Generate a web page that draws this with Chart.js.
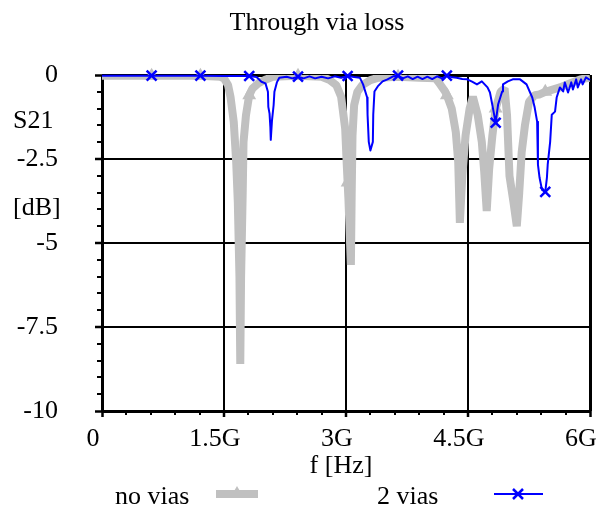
<!DOCTYPE html>
<html>
<head>
<meta charset="utf-8">
<script src="https://cdn.jsdelivr.net/npm/chart.js@4.4.1/dist/chart.umd.min.js"></script>
<style>
  html, body { margin: 0; padding: 0; background: #fff; }
  #wrap { width: 601px; height: 515px; }
</style>
</head>
<body>
<div id="wrap"><canvas id="c" width="601" height="515"></canvas></div>
<script>
// Frequencies in GHz, S21 in dB
const freqNoVias = [0, 0.3, 0.61, 0.9, 1.21, 1.45, 1.5, 1.55, 1.58, 1.62, 1.65, 1.67, 1.69, 1.70, 1.71, 1.73, 1.74, 1.77, 1.81, 1.85, 1.92, 2.0, 2.1, 2.41, 2.7, 2.8, 2.88, 2.94, 2.99, 3.01, 3.02, 3.03, 3.06, 3.07, 3.08, 3.10, 3.14, 3.2, 3.3, 3.4, 3.64, 3.9, 4.1, 4.15, 4.22, 4.24, 4.3, 4.35, 4.38, 4.40, 4.43, 4.47, 4.52, 4.56, 4.62, 4.67, 4.70, 4.73, 4.76, 4.80, 4.84, 4.9, 4.95, 4.98, 5.01, 5.06, 5.10, 5.13, 5.16, 5.2, 5.25, 5.32, 5.38, 5.45, 5.63, 5.75, 5.88, 6.0];
const s21NoVias = [-0.02, -0.02, -0.02, -0.02, -0.02, -0.05, -0.1, -0.3, -0.65, -1.4, -2.6, -3.8, -6.0, -8.6, -6.0, -3.5, -2.0, -1.2, -0.6, -0.4, -0.25, -0.15, -0.05, -0.02, -0.05, -0.15, -0.3, -0.65, -1.6, -2.7, -3.2, -3.7, -5.65, -3.5, -1.8, -0.9, -0.5, -0.3, -0.15, -0.08, -0.05, -0.08, -0.1, -0.25, -0.5, -0.6, -1.0, -1.7, -2.6, -4.4, -3.0, -1.8, -1.0, -0.65, -1.2, -2.0, -2.9, -4.05, -2.8, -1.8, -1.0, -0.5, -0.4, -1.2, -3.0, -3.8, -4.5, -3.5, -2.3, -1.5, -0.8, -0.6, -0.58, -0.5, -0.37, -0.25, -0.13, -0.08];

const freqTwoVias = [0, 0.3, 0.61, 0.9, 1.21, 1.5, 1.81, 1.9, 1.96, 2.01, 2.04, 2.045, 2.06, 2.07, 2.075, 2.09, 2.11, 2.12, 2.15, 2.18, 2.27, 2.34, 2.41, 2.48, 2.55, 2.62, 2.7, 2.78, 2.86, 2.94, 3.02, 3.1, 3.17, 3.21, 3.26, 3.265, 3.28, 3.30, 3.33, 3.335, 3.35, 3.39, 3.45, 3.51, 3.58, 3.64, 3.7, 3.76, 3.82, 3.88, 3.94, 4.0, 4.06, 4.12, 4.18, 4.24, 4.31, 4.36, 4.43, 4.49, 4.55, 4.61, 4.67, 4.74, 4.77, 4.81, 4.84, 4.87, 4.92, 4.93, 4.99, 5.05, 5.14, 5.22, 5.29, 5.32, 5.35, 5.36, 5.38, 5.41, 5.45, 5.47, 5.48, 5.51, 5.53, 5.57, 5.59, 5.63, 5.67, 5.69, 5.73, 5.77, 5.79, 5.83, 5.85, 5.89, 5.91, 5.95, 6.0];
const s21TwoVias = [-0.02, -0.02, -0.02, -0.02, -0.02, -0.03, -0.03, -0.06, -0.2, -0.25, -0.5, -0.95, -1.15, -1.55, -1.93, -1.35, -0.9, -0.5, -0.22, -0.08, -0.05, -0.1, -0.05, -0.1, -0.04, -0.1, -0.05, -0.1, -0.04, -0.08, -0.03, -0.06, -0.08, -0.28, -0.67, -1.18, -1.99, -2.25, -1.99, -1.18, -0.49, -0.34, -0.19, -0.13, -0.04, -0.02, -0.1, -0.04, -0.12, -0.05, -0.12, -0.05, -0.12, -0.04, -0.1, -0.02, -0.07, -0.08, -0.12, -0.13, -0.2, -0.28, -0.19, -0.37, -0.52, -1.03, -1.42, -0.88, -0.49, -0.28, -0.19, -0.13, -0.13, -0.28, -0.67, -0.97, -1.39, -2.67, -3.06, -3.42, -3.48, -3.06, -2.67, -1.99, -1.18, -1.09, -0.67, -0.37, -0.49, -0.22, -0.52, -0.22, -0.43, -0.13, -0.37, -0.13, -0.28, -0.07, -0.15];

// Frequencies where point symbols are placed on both curves
const markerFreqs = [0.61, 1.21, 1.81, 2.41, 3.02, 3.64, 4.24, 4.84, 5.45];

const xTickValues = [0, 1.5, 3, 4.5, 6];
const xTickLabels = ['0', '1.5G', '3G', '4.5G', '6G'];
const yTickValues = [0, -2.5, -5, -7.5, -10];
const yTickLabels = ['0', '-2.5', '-5', '-7.5', '-10'];
const seriesNames = ['no vias', '2 vias'];

const GRAY = '#c0c0c0';
const BLUE = '#0000ff';
const SERIF = '"Liberation Serif", "Times New Roman", serif';
const FONT_PX = 26;

const toPoints = (xs, ys) => xs.map((x, i) => ({ x, y: ys[i] }));
const isMarker = (ctx) => ctx.raw && markerFreqs.includes(ctx.raw.x);

// Border lines on the plot edges, thinner interior grid lines
const edgeWidth = (vals) => (ctx) => {
  const v = ctx.tick ? ctx.tick.value : null;
  return (v === vals[0] || v === vals[vals.length - 1]) ? 3 : 2;
};

const decor = {
  id: 'decor',
  afterDatasetsDraw(chart) {
    // minor ticks
    const { ctx, scales: { x, y } } = chart;
    ctx.save();
    ctx.strokeStyle = '#000';
    ctx.lineWidth = 2;
    ctx.beginPath();
    for (let v = -0.5; v > -10; v -= 0.5) {
      if (Math.abs(v / 2.5 - Math.round(v / 2.5)) < 1e-6) continue;
      const py = Math.round(y.getPixelForValue(v));
      ctx.moveTo(x.left - 5, py); ctx.lineTo(x.left, py);
    }
    for (let v = 0.3; v < 6; v += 0.3) {
      if (Math.abs(v / 1.5 - Math.round(v / 1.5)) < 1e-6) continue;
      const px = Math.round(x.getPixelForValue(v));
      ctx.moveTo(px, y.bottom); ctx.lineTo(px, y.bottom + 4);
    }
    ctx.stroke();
    ctx.restore();
  },
  afterDraw(chart) {
    const { ctx } = chart;
    ctx.save();
    ctx.fillStyle = '#000';
    ctx.font = FONT_PX + 'px ' + SERIF;
    ctx.textBaseline = 'middle';
    ctx.textAlign = 'center';
    ctx.fillText('Through via loss', 317, 23);
    ctx.fillText('f [Hz]', 341, 466);
    ctx.textAlign = 'left';
    ctx.fillText('S21', 13, 121);
    ctx.fillText('[dB]', 13, 208);

    // legend: label, then line sample with its symbol
    const ds = chart.data.datasets;
    ctx.fillText(seriesNames[0], 115, 497);
    ctx.fillText(seriesNames[1], 377, 497);

    // no vias sample
    ctx.strokeStyle = ds[0].borderColor;
    ctx.lineWidth = ds[0].borderWidth;
    ctx.beginPath(); ctx.moveTo(216, 494); ctx.lineTo(258, 494); ctx.stroke();
    ctx.fillStyle = GRAY;
    const r = 8;
    ctx.beginPath();
    ctx.moveTo(237, 494 - r);
    ctx.lineTo(237 + r * 0.866, 494 + r / 2);
    ctx.lineTo(237 - r * 0.866, 494 + r / 2);
    ctx.closePath(); ctx.fill();

    // 2 vias sample
    ctx.strokeStyle = ds[1].borderColor;
    ctx.lineWidth = ds[1].borderWidth;
    ctx.beginPath(); ctx.moveTo(494, 494); ctx.lineTo(543, 494); ctx.stroke();
    ctx.lineWidth = 2.5;
    ctx.beginPath();
    ctx.moveTo(513, 489); ctx.lineTo(523, 499);
    ctx.moveTo(523, 489); ctx.lineTo(513, 499);
    ctx.stroke();
    ctx.restore();
  }
};

new Chart(document.getElementById('c'), {
  type: 'line',
  data: {
    datasets: [
      {
        label: seriesNames[0],
        data: toPoints(freqNoVias, s21NoVias),
        borderColor: GRAY,
        borderWidth: 8,
        borderJoinStyle: 'bevel',
        pointRadius: 0,
        clip: 0,
        order: 3
      },
      {
        label: seriesNames[1],
        data: toPoints(freqTwoVias, s21TwoVias),
        borderColor: BLUE,
        borderWidth: 2,
        borderJoinStyle: 'round',
        pointStyle: 'crossRot',
        pointRadius: (ctx) => isMarker(ctx) ? 7 : 0,
        pointBorderColor: BLUE,
        pointBorderWidth: 2.5,
        clip: 8,
        order: 1
      },
      {
        // symbols of the no-vias curve, drawn unclipped
        label: seriesNames[0],
        data: toPoints(freqNoVias, s21NoVias),
        showLine: false,
        pointStyle: 'triangle',
        pointRadius: (ctx) => isMarker(ctx) ? 8 : 0,
        pointBackgroundColor: GRAY,
        pointBorderColor: GRAY,
        pointBorderWidth: 0,
        clip: false,
        order: 2
      }
    ]
  },
  options: {
    responsive: false,
    animation: false,
    devicePixelRatio: 1,
    events: [],
    layout: { padding: { left: 0, right: 11, top: 75, bottom: 0 } },
    plugins: { legend: { display: false }, title: { display: false }, tooltip: { enabled: false } },
    scales: {
      x: {
        type: 'linear', min: 0, max: 6,
        afterBuildTicks: (s) => { s.ticks = xTickValues.map(v => ({ value: v })); },
        afterFit: (s) => { s.height = 104; s.paddingLeft = 0; s.paddingRight = 0; },
        ticks: {
          callback: (v, i) => xTickLabels[i],
          font: { family: SERIF, size: FONT_PX }, color: '#000',
          padding: 7, labelOffset: -9, maxRotation: 0, autoSkip: false
        },
        grid: { color: '#000', lineWidth: edgeWidth(xTickValues), tickLength: 6, tickWidth: 2.5, tickColor: '#000' },
        border: { display: false }
      },
      y: {
        type: 'linear', min: -10, max: 0,
        afterBuildTicks: (s) => { s.ticks = yTickValues.slice().reverse().map(v => ({ value: v })); },
        afterFit: (s) => { s.width = 102; s.paddingTop = 0; s.paddingBottom = 0; },
        ticks: {
          callback: (v) => yTickLabels[yTickValues.indexOf(v)],
          font: { family: SERIF, size: FONT_PX }, color: '#000',
          padding: 37, autoSkip: false
        },
        grid: { color: '#000', lineWidth: edgeWidth(yTickValues.slice().reverse()), tickLength: 7, tickWidth: 2.5, tickColor: '#000' },
        border: { display: false }
      }
    }
  },
  plugins: [decor]
});
</script>
</body>
</html>
